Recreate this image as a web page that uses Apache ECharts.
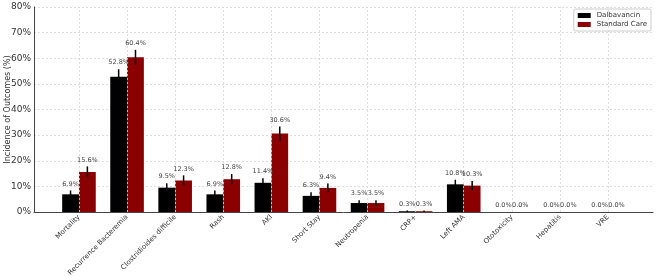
<!DOCTYPE html>
<html>
<head>
<meta charset="utf-8">
<script src="https://cdn.jsdelivr.net/npm/echarts@6/dist/echarts.min.js"></script>
<style>html,body{margin:0;padding:0;background:#fff}#c{width:657px;height:276px}</style>
</head>
<body>
<div id="c"></div>
<script>
const categories = ['Mortality','Recurrence Bacteremia','Clostridioides difficile','Rash','AKI','Short Stay','Neutropenia','CRP+','Left AMA','Ototoxicity','Hepatitis','VRE'];
const dalbavancin = [6.9, 52.8, 9.5, 6.9, 11.4, 6.3, 3.5, 0.3, 10.8, 0.0, 0.0, 0.0];
const standardCare = [15.6, 60.4, 12.3, 12.8, 30.6, 9.4, 3.5, 0.3, 10.3, 0.0, 0.0, 0.0];
const dalbavancinErr = [1.5, 2.9, 1.7, 1.5, 1.8, 1.4, 1.1, 0.3, 1.8, 0.0, 0.0, 0.0];
const standardCareErr = [2.2, 2.9, 2.0, 2.0, 2.8, 1.7, 1.1, 0.3, 1.8, 0.0, 0.0, 0.0];
const yTicks = [0, 10, 20, 30, 40, 50, 60, 70, 80];

const FONT = 'DejaVu Sans';
const chart = echarts.init(document.getElementById('c'), null, {renderer: 'canvas'});
const idx = categories.map((c, i) => i);
const BAR_W = 0.35; // in category units

function errSeries(name, vals, errs, side) {
  return {
    name: name + ' err',
    type: 'custom',
    z: 5,
    silent: true,
    data: vals.map((v, i) => [i, v, errs[i]]),
    renderItem: function (params, api) {
      const x = api.value(0), v = api.value(1), e = api.value(2);
      const cx = api.coord([x + side * BAR_W / 2, 0])[0];
      const top = api.coord([x, v + e])[1];
      const bot = api.coord([x, v - e])[1];
      return {
        type: 'group',
        children: [
          {type: 'line', shape: {x1: cx, y1: bot, x2: cx, y2: top}, style: {stroke: '#000', lineWidth: 1.5}},
          {type: 'text', style: {text: v.toFixed(1) + '%', x: cx, y: top - 3, align: 'center', verticalAlign: 'bottom', fill: '#444', font: '6.5px "' + FONT + '"'}}
        ]
      };
    }
  };
}

const option = {
  animation: false,
  backgroundColor: '#fff',
  textStyle: {fontFamily: FONT},
  grid: {left: 34, right: 4, top: 7, bottom: 64, containLabel: false, outerBoundsMode: 'none'},
  legend: {
    orient: 'vertical', right: 6, top: 9,
    data: ['Dalbavancin', 'Standard Care'],
    icon: 'rect', itemWidth: 13, itemHeight: 5, itemGap: 2,
    backgroundColor: '#fff', borderColor: '#ccc', borderWidth: 1, borderRadius: 2,
    padding: [3, 4, 3, 4],
    textStyle: {fontSize: 7, color: '#333', fontFamily: FONT, padding: [0, 0, 0, 1]}
  },
  xAxis: {
    type: 'value', min: -0.935, max: 11.935,
    axisLine: {show: true, onZero: false, lineStyle: {color: '#444', width: 1}},
    axisTick: {show: false},
    splitLine: {show: false},
    axisLabel: {
      customValues: idx, rotate: 45, fontSize: 7, color: '#333', margin: 4,
      formatter: v => categories[Math.round(v)] || ''
    }
  },
  yAxis: {
    type: 'value', min: 0, max: 80, interval: 10,
    name: 'Incidence of Outcomes (%)', nameLocation: 'middle', nameGap: 22,
    nameMoveOverlap: false,
    nameTextStyle: {fontSize: 8, color: '#333', fontFamily: FONT},
    axisLine: {show: true, onZero: false, lineStyle: {color: '#444', width: 1}},
    axisTick: {show: false},
    axisLabel: {fontSize: 9, color: '#333', margin: 3, formatter: v => yTicks.includes(v) ? v + '%' : ''},
    splitLine: {show: true, lineStyle: {color: '#d6d6d6', type: [2, 2], width: 0.8}}
  },
  series: [
    {
      name: 'grid', type: 'line', data: [], z: 1, silent: true,
      markLine: {
        silent: true, symbol: ['none', 'none'], label: {show: false},
        lineStyle: {color: '#d6d6d6', type: [2, 2], width: 0.8},
        data: idx.map(i => ({xAxis: i}))
      }
    },
    {
      name: 'Dalbavancin', type: 'bar', z: 2, barWidth: 16.8, barGap: '0%',
      itemStyle: {color: '#000000'},
      data: dalbavancin.map((v, i) => [i, v])
    },
    {
      name: 'Standard Care', type: 'bar', z: 2, barWidth: 16.8, barGap: '0%',
      itemStyle: {color: '#8b0000'},
      data: standardCare.map((v, i) => [i, v])
    },
    errSeries('Dalbavancin', dalbavancin, dalbavancinErr, -1),
    errSeries('Standard Care', standardCare, standardCareErr, 1)
  ]
};
chart.setOption(option);
</script>
</body>
</html>
